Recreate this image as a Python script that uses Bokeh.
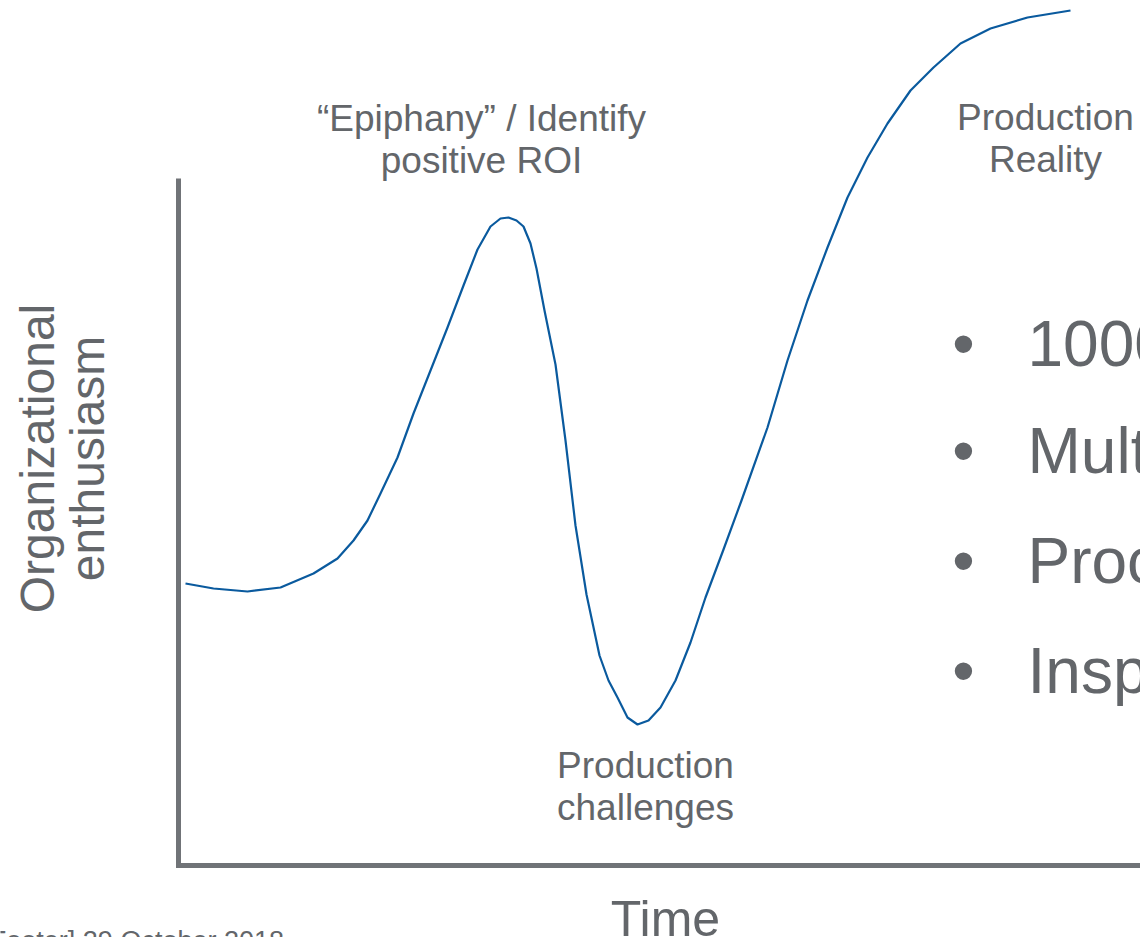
from bokeh.plotting import figure
from bokeh.models import Range1d, Label
from bokeh.embed import file_html
from bokeh.resources import INLINE

# Curve: time (x) vs organizational enthusiasm (y)
time = [0.7, 3.5, 6.9, 10.2, 13.5, 15.9, 17.5, 18.9, 20.2, 21.9, 23.5, 25.2, 26.9, 28.5,
        29.9, 31.2, 32.2, 33.0, 33.8, 34.5, 35.2, 35.8, 36.6, 37.7, 38.7, 39.7, 40.8,
        42.1, 43.0, 43.9, 44.9, 45.9, 47.0, 48.2, 49.7, 51.2, 52.7, 54.5, 56.3, 58.9,
        60.9, 62.9, 64.9, 66.9, 68.9, 70.9, 73.2, 75.5, 78.2, 81.2, 84.9, 89.2]
enthusiasm = [28.2, 27.7, 27.4, 27.8, 29.2, 30.7, 32.5, 34.5, 37.2, 40.8, 45.2, 49.5, 53.8, 58.0,
              61.6, 63.9, 64.7, 64.8, 64.5, 63.9, 62.2, 59.7, 55.5, 50.1, 42.5, 34.0, 27.1,
              21.0, 18.5, 16.8, 14.8, 14.1, 14.5, 15.8, 18.5, 22.3, 26.8, 31.6, 36.5, 43.8,
              50.5, 56.5, 61.8, 66.8, 70.8, 74.2, 77.5, 79.8, 82.2, 83.7, 84.8, 85.5]

phase_labels = [["\u201cEpiphany\u201d / Identify", "positive ROI"],
                ["Production", "challenges"],
                ["Production", "Reality"]]
phase_x = [30.3, 46.7, 86.7]
phase_y = [74.7, 10.0, 74.8]

bullets = ["1000s of models", "Multiple teams", "Process automation", "Inspection"]
bullet_y = [52.2, 41.5, 30.5, 19.5]

x_label = "Time"
y_label = ["Organizational", "enthusiasm"]
footer = "[Footer]  29 October 2018"

FONT = "Liberation Sans"
GRAY = "#63666a"

p = figure(width=1140, height=937, output_backend="svg", toolbar_location=None,
           x_range=Range1d(-17.8, 96.2), y_range=Range1d(-7.2, 86.5),
           min_border=0, min_border_left=0, min_border_right=0,
           min_border_top=0, min_border_bottom=0)
p.axis.visible = False
p.grid.visible = False
p.outline_line_color = None
p.background_fill_color = "white"
p.border_fill_color = "white"

# axes drawn as thick gray lines
p.segment(x0=[0, -0.25], y0=[68.7, 0], x1=[0, 100], y1=[-0.2, 0],
          line_color="#707377", line_width=5)

p.line(time, enthusiasm, line_color="#0a5a9e", line_width=2.2, line_join="round")

def add_label(text, x, y, size, align="center", baseline="middle", angle=0.0):
    p.add_layout(Label(x=x, y=y, text=text, text_font=FONT, text_font_size=f"{size}px",
                       text_color=GRAY, text_align=align, text_baseline=baseline,
                       angle=angle))

for lines, x, y in zip(phase_labels, phase_x, phase_y):
    add_label(lines[0], x, y, 37)
    add_label(lines[1], x, y - 4.2, 37)

for txt, y in zip(bullets, bullet_y):
    add_label("\u2022", 78.5, y, 64)
    add_label(txt, 84.9, y, 64, align="left")

add_label(x_label, 48.7, -5.3, 50)
add_label(y_label[0], -14.1, 40.7, 48, angle=1.5708)
add_label(y_label[1], -9.1, 40.7, 48, angle=1.5708)
add_label(footer, 11.3, -7.55, 27, align="right", baseline="alphabetic")

open("out.html", "w").write(file_html(p, INLINE))
